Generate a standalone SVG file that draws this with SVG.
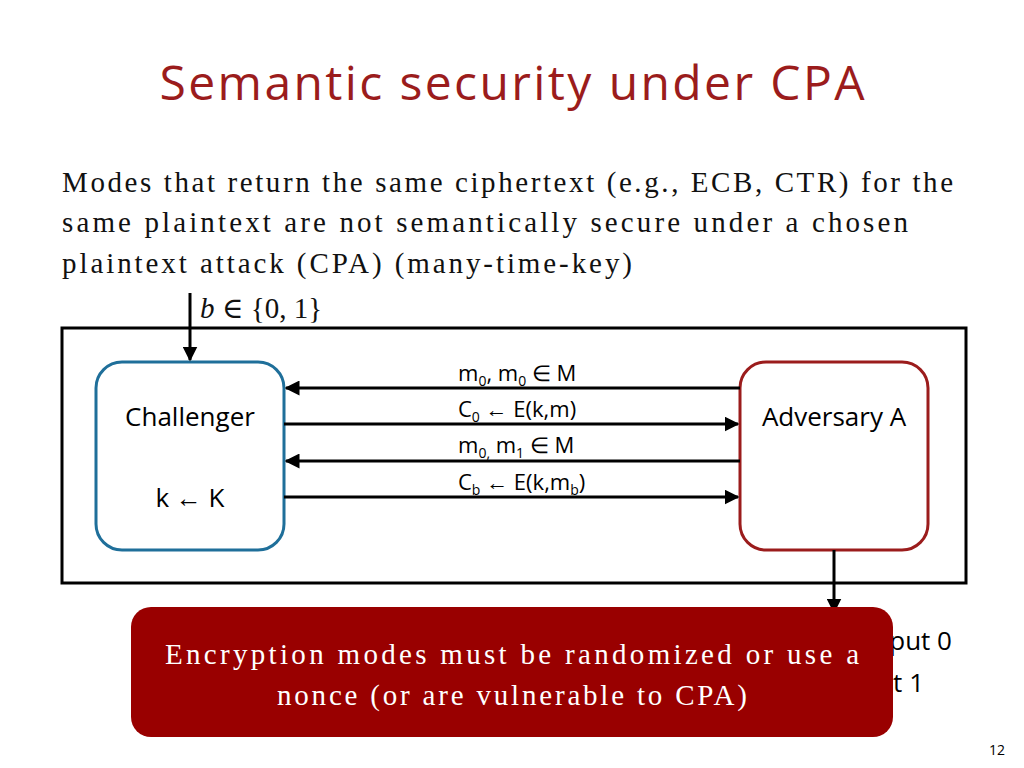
<svg xmlns="http://www.w3.org/2000/svg" width="1024" height="768" viewBox="0 0 1024 768">
<style>
.t{font-family:"Open Sans","Liberation Sans",sans-serif}
.s{font-family:"Liberation Serif","DejaVu Serif",serif}
.ln{stroke:#000;stroke-width:3;fill:none}
</style>
<defs><marker id="a" viewBox="0 0 10 10" refX="9" refY="5" markerWidth="5" markerHeight="5" orient="auto"><path d="M0,0L10,5L0,10z" fill="#000"/></marker></defs>
<rect width="1024" height="768" fill="#fff"/>
<text x="512" y="100" text-anchor="middle" class="t" font-size="48" fill="#9b1c1c" textLength="705">Semantic security under CPA</text>
<g class="s" font-size="29" fill="#111">
<text x="62" y="192" textLength="891">Modes that return the same ciphertext (e.g., ECB, CTR) for the</text>
<text x="62" y="232" textLength="846">same plaintext are not semantically secure under a chosen</text>
<text x="62" y="273" textLength="570">plaintext attack (CPA) (many-time-key)</text>
<text x="200" y="318" font-style="italic">b</text><text x="222" y="318">∈ {0, 1}</text>
</g>
<rect x="62" y="328" width="904" height="255" fill="none" stroke="#000" stroke-width="3"/>
<g id="challenger"><rect x="96" y="362" width="188" height="188" rx="26" fill="#fff" stroke="#1f6f9a" stroke-width="3"/>
<text x="190" y="426" text-anchor="middle" class="t" font-size="26">Challenger</text>
<text x="190" y="507" text-anchor="middle" class="t" font-size="26">k ← K</text></g>
<g id="adversary"><rect x="740" y="362" width="188" height="188" rx="26" fill="#fff" stroke="#9b1c1c" stroke-width="3"/>
<text x="834" y="426" text-anchor="middle" class="t" font-size="26">Adversary A</text></g>
<g id="connectors">
<line class="ln" x1="190" y1="293" x2="190" y2="360" marker-end="url(#a)"/>
<line class="ln" x1="740" y1="388" x2="286" y2="388" marker-end="url(#a)"/>
<line class="ln" x1="284" y1="424" x2="738" y2="424" marker-end="url(#a)"/>
<line class="ln" x1="740" y1="461" x2="286" y2="461" marker-end="url(#a)"/>
<line class="ln" x1="284" y1="497" x2="738" y2="497" marker-end="url(#a)"/>
<line class="ln" x1="834" y1="550" x2="834" y2="612" marker-end="url(#a)"/>
</g>
<g class="t" font-size="22">
<text x="458" y="381">m<tspan font-size="14" dy="5">0</tspan><tspan dy="-5">, m</tspan><tspan font-size="14" dy="5">0</tspan><tspan dy="-5"> ∈ M</tspan></text>
<text x="458" y="417">C<tspan font-size="14" dy="5">0</tspan><tspan dy="-5"> ← E(k,m)</tspan></text>
<text x="458" y="453">m<tspan font-size="14" dy="5">0,</tspan><tspan dy="-5"> m</tspan><tspan font-size="14" dy="5">1</tspan><tspan dy="-5"> ∈ M</tspan></text>
<text x="458" y="490">C<tspan font-size="14" dy="5">b</tspan><tspan dy="-5"> ← E(k,m</tspan><tspan font-size="14" dy="5">b</tspan><tspan dy="-5">)</tspan></text>
</g>
<text x="952" y="650" text-anchor="end" class="t" font-size="26">put 0</text>
<text x="924" y="692" text-anchor="end" class="t" font-size="26">t 1</text>
<g id="note"><rect x="131" y="607" width="762" height="130" rx="20" fill="#990000"/>
<text x="512" y="664" text-anchor="middle" class="s" font-size="29" fill="#fff" textLength="694">Encryption modes must be randomized or use a</text>
<text x="512" y="705" text-anchor="middle" class="s" font-size="29" fill="#fff" textLength="470">nonce (or are vulnerable to CPA)</text></g>
<text x="1005" y="755" text-anchor="end" class="t" font-size="14">12</text>
</svg>
